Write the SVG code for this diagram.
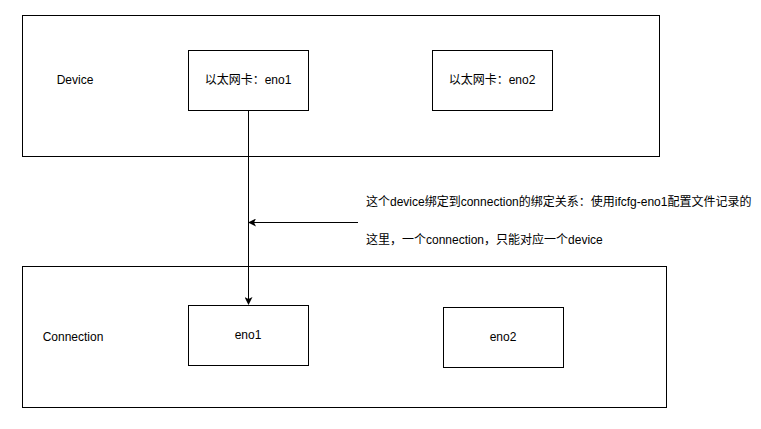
<svg xmlns="http://www.w3.org/2000/svg" width="761" height="429" viewBox="0 0 761 429">
<style>
.box{fill:#fff;stroke:#000;stroke-width:1}
.t{font-family:"Liberation Sans","Noto Sans CJK SC",sans-serif;font-size:12px;fill:#000}
.c{stroke:#000;stroke-width:1;fill:none}
</style>
<defs>
<marker id="ah" markerWidth="8" markerHeight="8" refX="7" refY="4" orient="auto" markerUnits="userSpaceOnUse">
<path d="M0,0 L8,4 L0,8 L2,4 Z" fill="#000"/>
</marker>
</defs>
<rect width="761" height="429" fill="#fff"/>
<g id="device">
<rect class="box" x="22.5" y="15.5" width="637" height="141"/>
<text class="t" x="75" y="84" text-anchor="middle">Device</text>
</g>
<g id="dev-eno1">
<rect class="box" x="188.5" y="50.5" width="120" height="60"/>
<text class="t" x="248" y="84" text-anchor="middle">以太网卡：eno1</text>
</g>
<g id="dev-eno2">
<rect class="box" x="432.5" y="50.5" width="120" height="60"/>
<text class="t" x="492" y="84" text-anchor="middle">以太网卡：eno2</text>
</g>
<g id="connection">
<rect class="box" x="22.5" y="266.5" width="644" height="141"/>
<text class="t" x="73" y="341" text-anchor="middle">Connection</text>
</g>
<g id="con-eno1">
<rect class="box" x="188.5" y="305.5" width="120" height="60"/>
<text class="t" x="248" y="339" text-anchor="middle">eno1</text>
</g>
<g id="con-eno2">
<rect class="box" x="443.5" y="307.5" width="120" height="60"/>
<text class="t" x="503" y="341" text-anchor="middle">eno2</text>
</g>
<g id="note">
<text class="t" x="366" y="206">这个device绑定到connection的绑定关系：使用ifcfg-eno1配置文件记录的</text>
<text class="t" x="366" y="244">这里，一个connection，只能对应一个device</text>
</g>
<g id="connectors">
<path class="c" d="M248.5,110.5 L248.5,304" marker-end="url(#ah)"/>
<path class="c" d="M358,222.5 L249,222.5" marker-end="url(#ah)"/>
</g>
</svg>
